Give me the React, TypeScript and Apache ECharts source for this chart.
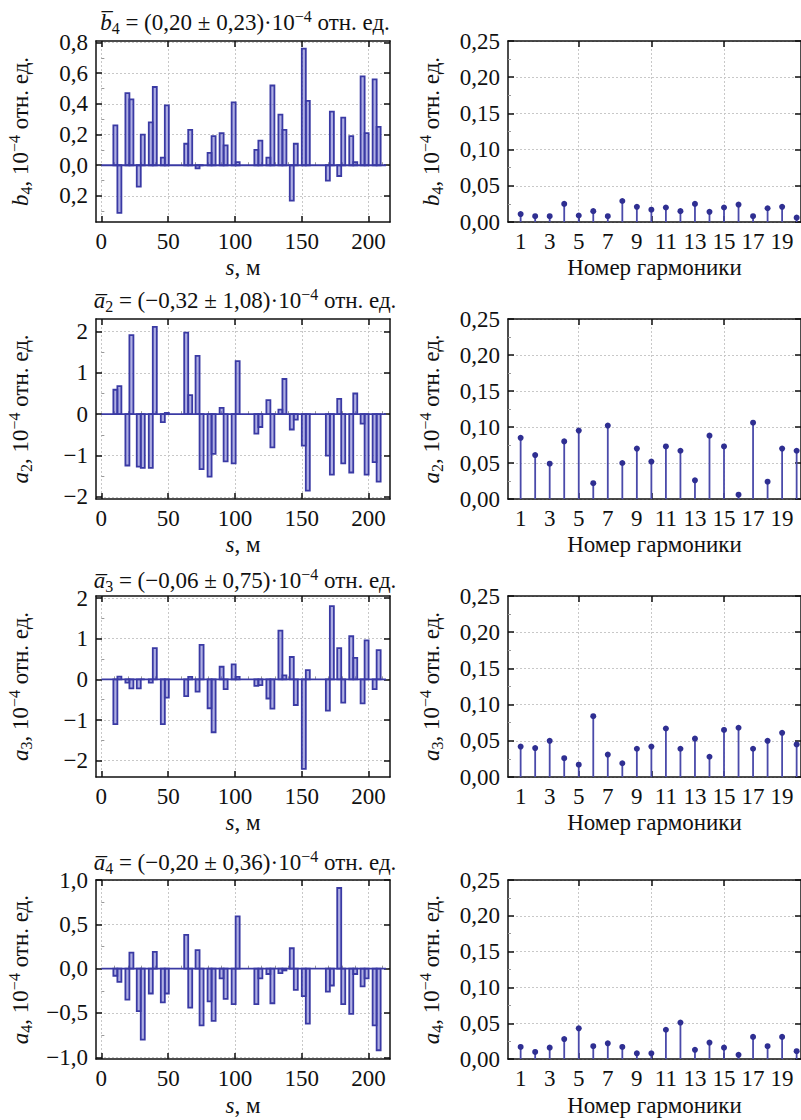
import React, { useEffect, useRef } from 'react';
import * as echarts from 'echarts';

// магниты вдоль кольца: начало и конец, м
const magnetStart = [9, 12, 18, 21, 26.5, 29.5, 35.5, 38.5, 44.5, 47.5, 62, 65, 70.5, 73.5, 79.5, 82.5, 88.5, 91.5, 97.5, 100.5, 114.5, 117.5, 123.5, 126.5, 132.5, 135.5, 141, 144, 150, 153, 168, 171, 176.5, 179.5, 185.5, 188.5, 194, 197, 203, 206];
const magnetEnd = [12, 15, 21, 24, 29.5, 32.5, 38.5, 41.5, 47.5, 50.5, 65, 68, 73.5, 76.5, 82.5, 85.5, 91.5, 94.5, 100.5, 103.5, 117.5, 120.5, 126.5, 129.5, 135.5, 138.5, 144, 147, 153, 156, 171, 174, 179.5, 182.5, 188.5, 191.5, 197, 200, 206, 209];
const beamline = [0, 213];

// мультипольные компоненты, 10^-4 отн. ед.
const b4Values = [0.26, -0.31, 0.47, 0.43, -0.14, 0.20, 0.28, 0.51, 0.05, 0.39, 0.14, 0.23, -0.02, 0, 0.08, 0.19, 0.21, 0.13, 0.41, 0.02, 0.10, 0.16, 0.05, 0.52, 0.33, 0.23, -0.23, 0.14, 0.76, 0.42, -0.10, 0.35, -0.07, 0.31, 0.19, 0.02, 0.58, 0.21, 0.56, 0.25];
const a2Values = [0.59, 0.68, -1.24, 1.91, -1.27, -1.30, -1.30, 2.11, -0.19, 0.03, 1.97, 0.46, 1.41, -1.33, -1.51, -0.96, 0.15, -1.14, -1.19, 1.28, -0.47, -0.31, 0.34, -0.80, 0.11, 0.85, -0.37, -0.13, -0.76, -1.85, -1.00, -1.46, 0.37, -1.19, -1.41, 0.50, -0.23, -1.46, -1.16, -1.63];
const a3Values = [-1.10, 0.07, -0.08, -0.22, -0.22, 0, -0.08, 0.77, -1.10, -0.45, -0.41, 0.06, -0.30, 0.85, -0.71, -1.30, 0.31, -0.24, 0.37, 0.06, -0.16, -0.14, -0.47, -0.72, 1.20, 0.10, 0.55, -0.63, -2.20, 0.23, -0.77, 1.80, 0.77, -0.57, 1.06, 0.53, -0.59, 0.96, -0.24, 0.72];
const a4Values = [-0.08, -0.15, -0.35, 0.18, -0.48, -0.80, -0.28, 0.19, -0.38, -0.28, 0.38, -0.44, 0.21, -0.64, -0.37, -0.59, -0.11, -0.34, -0.40, 0.59, -0.40, -0.11, -0.06, -0.39, -0.05, -0.02, 0.23, -0.24, -0.31, -0.62, -0.26, -0.19, 0.91, -0.40, -0.51, -0.06, -0.20, -0.11, -0.64, -0.92];

// амплитуды гармоник
const harmonicNumbers = [1, 2, 3, 4, 5, 6, 7, 8, 9, 10, 11, 12, 13, 14, 15, 16, 17, 18, 19, 20];
const b4Harmonics = [0.011, 0.008, 0.008, 0.025, 0.009, 0.015, 0.008, 0.029, 0.021, 0.017, 0.020, 0.015, 0.025, 0.014, 0.020, 0.024, 0.008, 0.019, 0.021, 0.006];
const a2Harmonics = [0.085, 0.061, 0.049, 0.080, 0.095, 0.022, 0.102, 0.050, 0.070, 0.052, 0.073, 0.067, 0.026, 0.088, 0.073, 0.006, 0.106, 0.024, 0.070, 0.067];
const a3Harmonics = [0.042, 0.040, 0.050, 0.026, 0.017, 0.084, 0.031, 0.019, 0.039, 0.042, 0.067, 0.039, 0.053, 0.028, 0.065, 0.068, 0.039, 0.050, 0.061, 0.045];
const a4Harmonics = [0.017, 0.010, 0.016, 0.028, 0.043, 0.018, 0.022, 0.017, 0.008, 0.008, 0.041, 0.051, 0.013, 0.023, 0.016, 0.006, 0.031, 0.018, 0.031, 0.011];

// деления осей
const sTicks = [0, 50, 100, 150, 200];
const sMinorTicks = [10, 20, 30, 40, 60, 70, 80, 90, 110, 120, 130, 140, 160, 170, 180, 190, 210];
const harmonicTicks = [5, 10, 15];
const harmonicLabels = [1, 3, 5, 7, 9, 11, 13, 15, 17, 19];
const b4Ticks = [-0.2, 0, 0.2, 0.4, 0.6, 0.8];
const b4Minor = [-0.3, -0.1, 0.1, 0.3, 0.5, 0.7];
const a2Ticks = [-2, -1, 0, 1, 2];
const a3Ticks = [-2, -1, 0, 1, 2];
const a23Minor = [-1.5, -0.5, 0.5, 1.5];
const a4Ticks = [-1, -0.5, 0, 0.5, 1];
const a4Minor = [-0.75, -0.25, 0.25, 0.75];
const harmTicks = [0, 0.05, 0.1, 0.15, 0.2, 0.25];
const harmMinor = [0.025, 0.075, 0.125, 0.175, 0.225];

const FONT = 'Liberation Serif';
const SIZE = 23;
const SMALL = 16;
const INK = '#111111';
const GRID_LINE = '#c8c8c8';
const BAR_STROKE = '#3a3aa4';
const BAR_FILL = 'rgba(95, 95, 200, 0.5)';
const STEM = '#4a4aaa';
const DOT = '#2f2f92';

const comma = (v: number, d: number) => v.toFixed(d).replace('.', ',');
const signed = (d: number) => (v: number) => (v < -1e-9 ? '−' : '') + comma(Math.abs(v), d);

const rich = {
  i: { fontStyle: 'italic', fontFamily: FONT, fontSize: SIZE, color: INK, lineHeight: 28 },
  sub: { fontFamily: FONT, fontSize: SMALL, color: INK, lineHeight: 16, verticalAlign: 'bottom' },
  sup: { fontFamily: FONT, fontSize: SMALL, color: INK, lineHeight: 16, verticalAlign: 'top' },
};
const graphicRich = {
  i: { fontStyle: 'italic', fontFamily: FONT, fontSize: SIZE, fill: INK, lineHeight: 28 },
  sub: { fontFamily: FONT, fontSize: SMALL, fill: INK, lineHeight: 16, verticalAlign: 'bottom' },
  sup: { fontFamily: FONT, fontSize: SMALL, fill: INK, lineHeight: 16, verticalAlign: 'top' },
};

const leftPanels = [
  { sym: 'b', idx: '4', mean: '(0,20 ± 0,23)', values: b4Values, harm: b4Harmonics, min: -0.37, max: 0.81, ticks: b4Ticks, minor: b4Minor, fmt: (v: number) => comma(Math.abs(v), 1) },
  { sym: 'a', idx: '2', mean: '(−0,32 ± 1,08)', values: a2Values, harm: a2Harmonics, min: -2.05, max: 2.3, ticks: a2Ticks, minor: a23Minor, fmt: signed(0) },
  { sym: 'a', idx: '3', mean: '(−0,06 ± 0,75)', values: a3Values, harm: a3Harmonics, min: -2.4, max: 2.05, ticks: a3Ticks, minor: a23Minor, fmt: signed(0) },
  { sym: 'a', idx: '4', mean: '(−0,20 ± 0,36)', values: a4Values, harm: a4Harmonics, min: -1.02, max: 1.0, ticks: a4Ticks, minor: a4Minor, fmt: signed(1) },
];

const ROW_TOP = [41, 319, 596, 880];
const ROW_H = [181, 180, 181, 181];
const TITLE_Y = [22, 300, 580, 862];

function buildOption(): echarts.EChartsOption {
  const grid: any[] = [];
  const xAxis: any[] = [];
  const yAxis: any[] = [];
  const series: any[] = [];

  const axisLine = { show: true, onZero: false, lineStyle: { color: INK, width: 1.5 } };
  const major = (vals: number[]) => ({ show: true, inside: true, length: 6, customValues: vals, lineStyle: { color: INK, width: 1.5 } });
  const minor = (vals: number[]) => ({ show: true, inside: true, length: 3, customValues: vals, lineStyle: { color: '#999999', width: 1 } });
  const split = { show: true, lineStyle: { color: GRID_LINE, width: 1, type: [2, 2] } };
  const label = { fontFamily: FONT, fontSize: SIZE, color: INK };
  const nameStyle = { fontFamily: FONT, fontSize: SIZE, color: INK, lineHeight: 28, rich };

  const addFrame = (g: number, x: any, y: any) => {
    const xi = xAxis.length;
    xAxis.push({
      type: 'value', gridIndex: g, position: 'bottom', min: x.min, max: x.max,
      axisLine, axisTick: major(x.ticks),
      axisLabel: { ...label, customValues: x.labels, formatter: x.fmt, margin: 8 },
      splitLine: split,
      name: x.name, nameLocation: 'middle', nameGap: 29, nameTextStyle: nameStyle,
    });
    xAxis.push({
      type: 'value', gridIndex: g, position: 'top', min: x.min, max: x.max,
      axisLine, axisTick: major(x.ticks), axisLabel: { show: false }, splitLine: { show: false },
    });
    if (x.minor) {
      xAxis.push({
        type: 'value', gridIndex: g, position: 'bottom', min: x.min, max: x.max,
        axisLine: { show: false }, axisTick: minor(x.minor), axisLabel: { show: false }, splitLine: { show: false },
      });
    }
    const yi = yAxis.length;
    yAxis.push({
      type: 'value', gridIndex: g, position: 'left', min: y.min, max: y.max,
      axisLine, axisTick: major(y.ticks),
      axisLabel: { ...label, customValues: y.ticks, formatter: y.fmt, margin: 8 },
      splitLine: split,
      name: y.name, nameLocation: 'middle', nameRotate: 90, nameGap: y.gap, nameTextStyle: nameStyle,
    });
    yAxis.push({
      type: 'value', gridIndex: g, position: 'right', min: y.min, max: y.max,
      axisLine, axisTick: major(y.ticks), axisLabel: { show: false }, splitLine: { show: false },
    });
    yAxis.push({
      type: 'value', gridIndex: g, position: 'left', min: y.min, max: y.max,
      axisLine: { show: false }, axisTick: minor(y.minor), axisLabel: { show: false }, splitLine: { show: false },
    });
    return { xi, yi };
  };

  leftPanels.forEach((p, r) => {
    const yName = `{i|${p.sym}}{sub|${p.idx}}, 10{sup|−4} отн. ед.`;

    // профиль вдоль кольца
    const gl = grid.length;
    grid.push({ left: 96, width: 294, top: ROW_TOP[r], height: ROW_H[r] });
    const L = addFrame(
      gl,
      { min: -4, max: 216, ticks: sTicks, labels: sTicks, minor: sMinorTicks, fmt: (v: number) => String(v), name: '{i|s}, м' },
      { min: p.min, max: p.max, ticks: p.ticks, minor: p.minor, fmt: p.fmt, name: yName, gap: 62 },
    );
    series.push({
      type: 'line', xAxisIndex: L.xi, yAxisIndex: L.yi, silent: true, symbol: 'none', z: 2,
      data: [[beamline[0], 0], [beamline[1], 0]],
      lineStyle: { color: BAR_STROKE, width: 1.8 },
    });
    series.push({
      type: 'custom', xAxisIndex: L.xi, yAxisIndex: L.yi, silent: true, clip: true, z: 3,
      data: magnetStart.map((s, k) => [s, magnetEnd[k], p.values[k]]),
      renderItem: (_params: any, api: any) => {
        const a = api.coord([api.value(0), 0]);
        const b = api.coord([api.value(1), api.value(2)]);
        return {
          type: 'rect',
          shape: { x: a[0], y: Math.min(a[1], b[1]), width: b[0] - a[0], height: Math.abs(b[1] - a[1]) },
          style: { fill: BAR_FILL, stroke: BAR_STROKE, lineWidth: 1.8 },
        };
      },
    });

    // спектр гармоник
    const gr = grid.length;
    grid.push({ left: 508, width: 293, top: ROW_TOP[r], height: ROW_H[r] });
    const R = addFrame(
      gr,
      { min: 0.13, max: 20.3, ticks: harmonicTicks, labels: harmonicLabels, fmt: (v: number) => String(v), name: 'Номер гармоники' },
      { min: 0, max: 0.25, ticks: harmTicks, minor: harmMinor, fmt: signed(2), name: yName, gap: 63 },
    );
    series.push({
      type: 'custom', xAxisIndex: R.xi, yAxisIndex: R.yi, silent: true, clip: true, z: 3,
      data: harmonicNumbers.map((h, k) => [h, p.harm[k]]),
      renderItem: (_params: any, api: any) => {
        const base = api.coord([api.value(0), 0]);
        const top = api.coord([api.value(0), api.value(1)]);
        return {
          type: 'group',
          children: [
            { type: 'line', shape: { x1: base[0], y1: base[1], x2: top[0], y2: top[1] }, style: { stroke: STEM, lineWidth: 1.8 } },
            { type: 'circle', shape: { cx: top[0], cy: top[1], r: 3 }, style: { fill: DOT } },
          ],
        };
      },
    });
  });

  const graphic = leftPanels.map((p, r) => ({
    type: 'text',
    x: 245,
    y: TITLE_Y[r],
    silent: true,
    style: {
      text: `{i|${p.sym}\u0305}{sub|${p.idx}} = ${p.mean}·10{sup|−4} отн. ед.`,
      rich: graphicRich,
      fontFamily: FONT,
      fontSize: SIZE,
      lineHeight: 28,
      fill: INK,
      align: 'center',
      verticalAlign: 'middle',
    },
  }));

  return {
    animation: false,
    backgroundColor: '#ffffff',
    textStyle: { fontFamily: FONT },
    grid,
    xAxis,
    yAxis,
    series,
    graphic,
  } as any;
}

const App: React.FC = () => {
  const chartRef = useRef<HTMLDivElement>(null);

  useEffect(() => {
    document.body.style.margin = '0';
    if (!chartRef.current) return;
    const chart = echarts.init(chartRef.current, null, { renderer: 'svg' });
    chart.setOption(buildOption());
    return () => {
      chart.dispose();
    };
  }, []);

  return <div ref={chartRef} style={{ width: 801, height: 1120 }} />;
};

export default App;
